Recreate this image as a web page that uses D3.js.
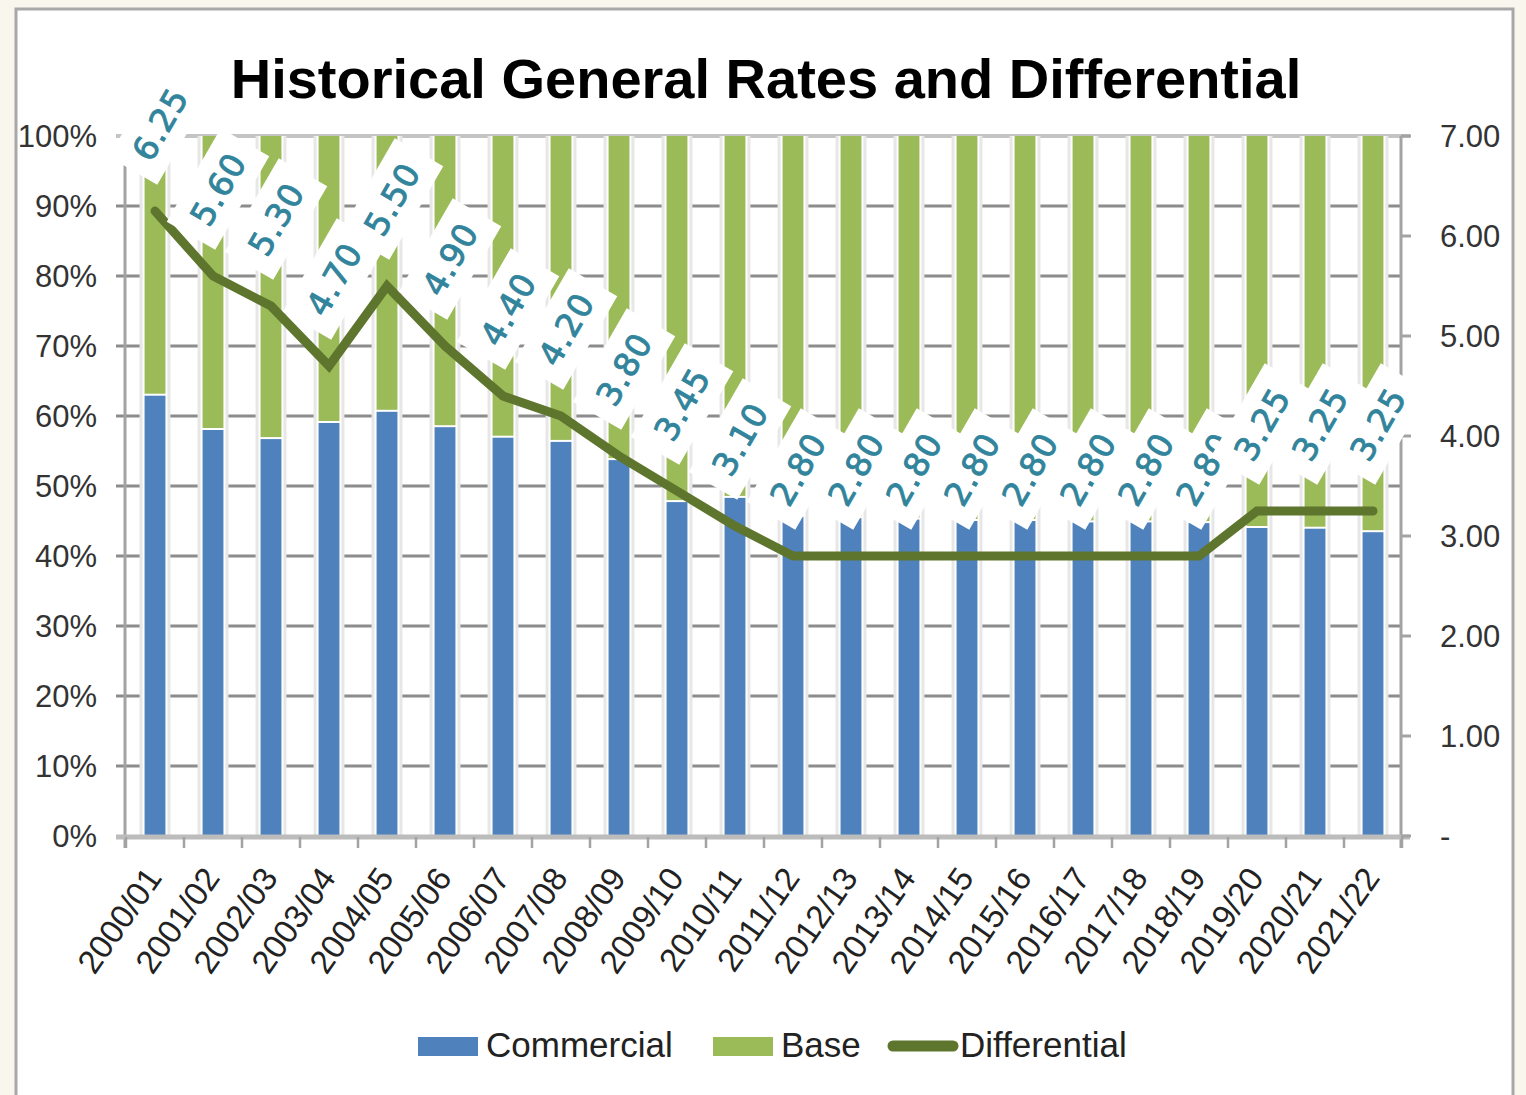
<!DOCTYPE html>
<html>
<head>
<meta charset="utf-8">
<script src="https://cdn.jsdelivr.net/npm/d3@7"></script>
<style>
  body { margin: 0; background: #f9f6ee; }
  svg { display: block; }
</style>
</head>
<body>
<div id="chart"></div>
<script>
// chart data
const years = ["2000/01", "2001/02", "2002/03", "2003/04", "2004/05", "2005/06", "2006/07", "2007/08",
    "2008/09", "2009/10", "2010/11", "2011/12", "2012/13", "2013/14", "2014/15", "2015/16",
    "2016/17", "2017/18", "2018/19", "2019/20", "2020/21", "2021/22"]
const commercial = [62.9, 58.0, 56.7, 59.0, 60.6, 58.4, 56.9, 56.3, 53.7, 47.7, 48.3,
    45.6, 45.4, 45.2, 45.0, 45.0, 44.8, 44.8, 44.7, 44.0, 43.9, 43.4]
const base = commercial.map(function (c) { return 100 - c; })   // 100% stacked
const differential = [6.25, 5.60, 5.30, 4.70, 5.50, 4.90, 4.40, 4.20, 3.80, 3.45, 3.10,
    2.80, 2.80, 2.80, 2.80, 2.80, 2.80, 2.80, 2.80, 3.25, 3.25, 3.25]
const leftTicks = [0, 10, 20, 30, 40, 50, 60, 70, 80, 90, 100]
const rightTicks = [0, 1, 2, 3, 4, 5, 6, 7]

const W = 1526, H = 1095
const blue = "#4f81bd", green = "#9bbb59", olive = "#5e752e", teal = "#31849b"

const svg = d3.select("#chart").append("svg")
    .attr("width", W)
    .attr("height", H)

// white chart area with border
svg.append("rect")
    .attr("x", 16).attr("y", 9)
    .attr("width", 1497).attr("height", H)
    .attr("fill", "#ffffff")
    .attr("stroke", "#a8a8a8")
    .attr("stroke-width", 3)

// title
svg.append("text")
    .attr("x", 766).attr("y", 98)
    .attr("text-anchor", "middle")
    .style("font-family", "'Liberation Sans', Arial, sans-serif")
    .style("font-weight", "bold")
    .style("font-size", "56px")
    .attr("fill", "#000")
    .text("Historical General Rates and Differential")

// scales
const x = d3.scaleBand().domain(years).range([126, 1402]).padding(0)
const yL = d3.scaleLinear().domain([0, 100]).range([836, 136])
const yR = d3.scaleLinear().domain([0, 7]).range([836, 136])
const barW = x.bandwidth() * 0.36

// gridlines
svg.append("g").selectAll("line")
    .data(leftTicks.filter(function (t) { return t > 0 && t < 100; }))
    .enter().append("line")
    .attr("x1", 116).attr("x2", 1402)
    .attr("y1", function (d) { return yL(d); })
    .attr("y2", function (d) { return yL(d); })
    .attr("stroke", "#8c8c8c")
    .attr("stroke-width", 3)
svg.append("line")
    .attr("x1", 116).attr("x2", 1410)
    .attr("y1", yL(100)).attr("y2", yL(100))
    .attr("stroke", "#c4c4c4").attr("stroke-width", 4)

// bar shadows (also break the gridlines)
svg.append("g").selectAll("rect")
    .data(years)
    .enter().append("rect")
    .attr("x", function (d) { return x(d) + x.bandwidth() / 2 - barW / 2 - 5; })
    .attr("width", barW + 10)
    .attr("y", yL(100))
    .attr("height", yL(0) - yL(100))
    .attr("fill", "#e7e7e7")
svg.append("g").selectAll("rect")
    .data(years)
    .enter().append("rect")
    .attr("x", function (d) { return x(d) + x.bandwidth() / 2 - barW / 2 - 2; })
    .attr("width", barW + 4)
    .attr("y", yL(100))
    .attr("height", yL(0) - yL(100))
    .attr("fill", "#ffffff")

// Base (green) on top of Commercial (blue)
svg.append("g").selectAll("rect")
    .data(years)
    .enter().append("rect")
    .attr("x", function (d) { return x(d) + x.bandwidth() / 2 - barW / 2; })
    .attr("width", barW)
    .attr("y", function (d, i) { return yL(commercial[i] + base[i]); })
    .attr("height", function (d, i) { return yL(commercial[i]) - yL(commercial[i] + base[i]) - 2; })
    .attr("fill", green)
svg.append("g").selectAll("rect")
    .data(years)
    .enter().append("rect")
    .attr("x", function (d) { return x(d) + x.bandwidth() / 2 - barW / 2; })
    .attr("width", barW)
    .attr("y", function (d, i) { return yL(commercial[i]); })
    .attr("height", function (d, i) { return yL(0) - yL(commercial[i]); })
    .attr("fill", blue)

// axes lines
const axisColor = "#a3a3a3"
svg.append("line").attr("x1", 125).attr("x2", 125).attr("y1", 136).attr("y2", 848)
    .attr("stroke", axisColor).attr("stroke-width", 3)
svg.append("line").attr("x1", 1401).attr("x2", 1401).attr("y1", 136).attr("y2", 848)
    .attr("stroke", axisColor).attr("stroke-width", 3)
svg.append("line").attr("x1", 116).attr("x2", 1410).attr("y1", 837).attr("y2", 837)
    .attr("stroke", "#bcbcbc").attr("stroke-width", 5)

// bottom ticks at band edges
svg.append("g").selectAll("line")
    .data(years.concat(["end"]))
    .enter().append("line")
    .attr("x1", function (d, i) { return i < years.length ? x(d) : x.range()[1]; })
    .attr("x2", function (d, i) { return i < years.length ? x(d) : x.range()[1]; })
    .attr("y1", 837).attr("y2", 848)
    .attr("stroke", axisColor).attr("stroke-width", 2.5)

// right ticks
svg.append("g").selectAll("line")
    .data(rightTicks)
    .enter().append("line")
    .attr("x1", 1401).attr("x2", 1411)
    .attr("y1", function (d) { return yR(d); })
    .attr("y2", function (d) { return yR(d); })
    .attr("stroke", axisColor).attr("stroke-width", 3)

// left labels
svg.append("g").selectAll("text")
    .data(leftTicks)
    .enter().append("text")
    .attr("x", 97)
    .attr("y", function (d) { return yL(d); })
    .attr("dy", "0.36em")
    .attr("text-anchor", "end")
    .style("font-family", "'Liberation Sans', Arial, sans-serif")
    .style("font-size", "31px")
    .attr("fill", "#333")
    .text(function (d) { return d + "%"; })

// right labels
svg.append("g").selectAll("text")
    .data(rightTicks)
    .enter().append("text")
    .attr("x", 1440)
    .attr("y", function (d) { return yR(d); })
    .attr("dy", "0.36em")
    .style("font-family", "'Liberation Sans', Arial, sans-serif")
    .style("font-size", "31px")
    .attr("fill", "#333")
    .text(function (d) { return d === 0 ? "-" : d3.format(".2f")(d); })

// x labels
svg.append("g").selectAll("text")
    .data(years)
    .enter().append("text")
    .attr("transform", function (d) {
        return "translate(" + (x(d) + x.bandwidth() / 2 + 8) + ",878) rotate(-55)";
    })
    .attr("text-anchor", "end")
    .style("font-family", "'Liberation Sans', Arial, sans-serif")
    .style("font-size", "33px")
    .attr("fill", "#222")
    .text(function (d) { return d; })

// differential line
const line = d3.line()
    .x(function (d, i) { return x(years[i]) + x.bandwidth() / 2; })
    .y(function (d) { return yR(d); })
svg.append("path")
    .datum(differential)
    .attr("d", line)
    .attr("fill", "none")
    .attr("stroke", olive)
    .attr("stroke-width", 9)
    .attr("stroke-linecap", "round")
    .attr("stroke-linejoin", "miter")

// data labels in rotated white boxes
const labels = svg.append("g").selectAll("g")
    .data(differential)
    .enter().append("g")
    .attr("transform", function (d, i) {
        return "translate(" + (x(years[i]) + x.bandwidth() / 2 + 5) + "," + (yR(d) - 87) + ") rotate(-60)";
    })
labels.append("rect")
    .attr("x", -54).attr("y", -28)
    .attr("width", 108).attr("height", 56)
    .attr("fill", "#ffffff")
labels.append("text")
    .attr("text-anchor", "middle")
    .attr("dy", "0.36em")
    .style("font-family", "'DejaVu Sans', sans-serif")
    .style("font-size", "33px")
    .style("letter-spacing", "1px")
    .attr("fill", teal)
    .attr("stroke", teal)
    .attr("stroke-width", 0.9)
    .text(function (d) { return d3.format(".2f")(d); })

// legend
const legend = svg.append("g")
legend.append("rect").attr("x", 418).attr("y", 1037).attr("width", 60).attr("height", 19).attr("fill", blue)
legend.append("text").attr("x", 486).attr("y", 1057).text("Commercial")
legend.append("rect").attr("x", 713).attr("y", 1037).attr("width", 60).attr("height", 19).attr("fill", green)
legend.append("text").attr("x", 781).attr("y", 1057).text("Base")
legend.append("line").attr("x1", 893).attr("x2", 953).attr("y1", 1046).attr("y2", 1046)
    .attr("stroke", olive).attr("stroke-width", 11).attr("stroke-linecap", "round")
legend.append("text").attr("x", 960).attr("y", 1057).text("Differential")
legend.selectAll("text")
    .style("font-family", "'Liberation Sans', Arial, sans-serif")
    .style("font-size", "35px")
    .attr("fill", "#222")
</script>
</body>
</html>
